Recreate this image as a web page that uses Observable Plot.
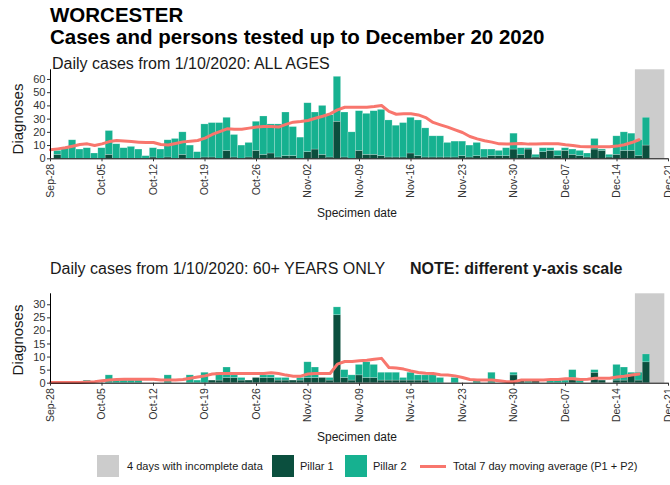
<!DOCTYPE html>
<html><head><meta charset="utf-8">
<script src="https://cdn.jsdelivr.net/npm/d3@7"></script>
<script src="https://cdn.jsdelivr.net/npm/@observablehq/plot@0.6"></script>
<style>
body{margin:0;background:#fff;font-family:"Liberation Sans",Arial,sans-serif;}
#page{position:relative;width:670px;height:485px;overflow:hidden;background:#fff;}
.t{position:absolute;white-space:nowrap;color:#000;line-height:1;}
.chart{position:absolute;left:0;}
.sw{position:absolute;width:22px;height:22px;}
</style></head><body><div id="page">
<div class="t" style="left:50px;top:4px;font-size:20.5px;line-height:21px;font-weight:bold;">WORCESTER</div>
<div class="t" style="left:50px;top:26px;font-size:20.5px;line-height:21px;font-weight:bold;">Cases and persons tested up to December 20 2020</div>
<div class="t" style="left:52px;top:56px;font-size:16px;color:#1a1a1a;">Daily cases from 1/10/2020: ALL AGES</div>
<div class="t" style="left:50px;top:261px;font-size:16px;color:#1a1a1a;">Daily cases from 1/10/2020: 60+ YEARS ONLY</div>
<div class="t" style="left:410px;top:261px;font-size:16px;font-weight:bold;color:#1a1a1a;">NOTE: different y-axis scale</div>
<div class="t" style="left:17px;top:119px;font-size:15px;color:#1a1a1a;transform:translate(-50%,-50%) rotate(-90deg);">Diagnoses</div>
<div class="t" style="left:17px;top:340px;font-size:15px;color:#1a1a1a;transform:translate(-50%,-50%) rotate(-90deg);">Diagnoses</div>
<div class="t" style="left:357px;top:213px;font-size:12px;color:#1a1a1a;transform:translate(-50%,-50%);">Specimen date</div>
<div class="t" style="left:357px;top:437px;font-size:12px;color:#1a1a1a;transform:translate(-50%,-50%);">Specimen date</div>
<div id="c1" class="chart" style="top:60px;"></div>
<div id="c2" class="chart" style="top:285px;"></div>
<div id="legend"></div>
</div>
<script>
// ---- data ----
const barStart = "2020-09-29", barEnd = "2020-12-19";      // bars: Sep-29 .. Dec-18
const lineStart = "2020-09-28", lineEnd = "2020-12-18";    // moving average: Sep-28 .. Dec-17
const incompleteFrom = "2020-12-17", incompleteTo = "2020-12-20";
const xTicks = ["2020-09-28","2020-10-05","2020-10-12","2020-10-19","2020-10-26","2020-11-02","2020-11-09","2020-11-16","2020-11-23","2020-11-30","2020-12-07","2020-12-14","2020-12-21"];
const xDomain = ["2020-09-28","2020-12-21"];

// ALL AGES
const allPillar1 = [3,0,0,0,0,0,0,3,0,0, 0,0,0,1,0,1,0,3,0,0, 1,1,0,6,1,0,1,6,3,4, 1,2,2,0,5,7,3,1,28,1, 0,6,3,3,2,1,1,1,4,2, 1,1,1,1,1,2,1,2,1,2, 2,2,7,3,7,1,5,6,2,6, 3,2,1,7,6,1,3,6,6,2,10];
const allPillar2 = [3,8,14,7,8,4,8,18,11,8, 9,7,2,7,7,13,15,17,10,5, 25,26,27,25,17,10,11,22,29,22, 25,33,22,16,37,28,37,32,34,34, 20,30,31,33,35,28,24,26,27,27, 22,16,16,11,12,11,9,10,6,5, 4,6,12,5,1,2,3,2,4,2, 4,4,3,8,1,2,14,14,13,12,21];
const allAvg = [6.8,7.5,8.3,9.5,10.8,11.3,10,11.3,13,13.8, 13.5,13,12.6,12.3,12.3,10.8,10.5,11.6,12.8,13.3, 13.8,15.6,18.4,20.6,22.7,22.4,22.4,23.2,24,24.4, 24.4,24,26,27.7,28.2,29,30.7,32.2,34,37, 39,39,39,39,39.5,40.3,35.8,33.7,34,34, 33.2,31.2,27.5,25.7,24,21.9,19.9,16.9,15.1,13.6, 12.6,11.3,11.1,11.3,11.6,11.1,11.1,11.3,11.3,11.3, 10.6,10.1,9.3,9.1,9.1,9.1,9.1,9.6,10.6,12.3,14.4];
const allYTicks = [0,10,20,30,40,50,60];

// 60+ YEARS
const oldPillar1 = [0,0,0,0,0,0,0,0,0,0, 0,0,0,0,0,0,0,0,0,0, 0,1,1,2,2,1,1,2,2,2, 1,1,1,1,2,2,2,1,26,2, 1,3,2,2,1,1,1,1,1,1, 1,0,0,0,0,0,0,0,0,0, 0,0,3,1,0,1,0,0,0,0, 2,0,0,4,1,0,1,1,3,1,8];
const oldPillar2 = [0,0,0,0,1,0,0,3,1,1, 1,1,0,0,0,3,0,0,3,1, 4,0,3,4,1,1,0,0,1,1, 1,1,0,1,6,4,0,1,3,3, 2,4,6,5,3,3,3,1,3,2, 2,3,2,0,2,0,0,1,0,4, 0,0,1,0,1,0,0,1,1,1, 3,1,0,1,0,0,6,5,1,3,3];
const oldAvg = [0.3,0.3,0.3,0.3,0.3,0.5,0.6,0.9,1.2,1.4, 1.5,1.5,1.5,1.5,1.5,1.2,1.2,1.2,1.4,1.9, 2.4,2.8,3.5,3.7,3.7,3.7,3.7,3.7,3.7,3.7, 4,3.7,3.1,2.7,2.7,3.5,3.7,3.7,3.7,7.3, 8.3,8.3,8.6,8.8,9.2,9.5,6,5.8,5.4,4.7, 4.1,3.8,3.7,3.2,3.1,2.8,2.2,1.4,1.2,1.2, 1.2,0.9,0.6,0.6,1.2,1.2,1.2,1.2,1.4,1.4, 1.7,1.7,1.4,1.5,1.9,1.9,1.9,2.4,2.7,3.1,3.5];
const oldYTicks = [0,5,10,15,20,25,30];

const series = ["Pillar 1","Pillar 2"];
const colors = {incomplete:"#cccccc", p1:"#0b4f3e", p2:"#16b190", avg:"#f8766d"};

// ---- build ----
const P = d => new Date(d + "T00:00:00Z");
const barDates = d3.utcDay.range(P(barStart), P(barEnd));
const lineDates = d3.utcDay.range(P(lineStart), P(lineEnd));

function makeChart(p1, p2, avg, yTicks, yMax, mTop, mBottom) {
  const bars = [];
  barDates.forEach((d, i) => {
    bars.push({date: d, series: series[0], value: p1[i]});
    bars.push({date: d, series: series[1], value: p2[i]});
  });
  const line = lineDates.map((d, i) => ({date: d, value: avg[i]}));
  const box = [{from: d3.utcHour.offset(P(incompleteFrom), -12), to: d3.utcHour.offset(P(incompleteTo), 12)}];
  return Plot.plot({
    width: 670, height: 160,
    marginLeft: 50, marginRight: 2, marginTop: mTop, marginBottom: mBottom,
    style: {fontFamily: "Liberation Sans, Arial, sans-serif", color: "#333", background: "transparent", overflow: "visible"},
    x: {type: "utc", domain: xDomain.map(P)},
    y: {domain: [0, yMax]},
    color: {domain: series, range: [colors.p1, colors.p2]},
    marks: [
      Plot.rect(box, {x1: "from", x2: "to", y1: 0, y2: yMax, fill: colors.incomplete}),
      Plot.rectY(bars, {
        x1: d => d3.utcHour.offset(d.date, -12),
        x2: d => d3.utcHour.offset(d.date, 12),
        y: "value", fill: "series",
        stroke: "#ffffff", strokeOpacity: 0.35, strokeWidth: 0.6
      }),
      Plot.line(line, {x: "date", y: "value", stroke: colors.avg, strokeWidth: 3, curve: "linear"}),
      Plot.ruleY([0], {stroke: "#000", strokeWidth: 1}),
      Plot.ruleX([P(xDomain[0])], {stroke: "#000", strokeWidth: 1}),
      Plot.axisY({ticks: yTicks, tickSize: 3, label: null, fontSize: 11, tickPadding: 2}),
      Plot.axisX({ticks: xTicks.map(P), tickFormat: d3.utcFormat("%b-%d"), tickRotate: -90, tickSize: 3, tickPadding: 2, label: null, fontSize: 10.5})
    ]
  });
}

document.getElementById("c1").append(makeChart(allPillar1, allPillar2, allAvg, allYTicks, 67.3, 9.3, 61.7));
document.getElementById("c2").append(makeChart(oldPillar1, oldPillar2, oldAvg, oldYTicks, 34.2, 8.3, 62.3));

// ---- legend ----
const legendItems = [
  {label: "4 days with incomplete data", kind: "box", color: colors.incomplete, x: 97, tx: 127},
  {label: "Pillar 1", kind: "box", color: colors.p1, x: 272, tx: 300},
  {label: "Pillar 2", kind: "box", color: colors.p2, x: 345, tx: 373},
  {label: "Total 7 day moving average (P1 + P2)", kind: "line", color: colors.avg, x: 420, tx: 453}
];
const lg = document.getElementById("legend");
legendItems.forEach(it => {
  const s = document.createElement("div");
  if (it.kind === "box") {
    s.className = "sw";
    s.style.cssText = `left:${it.x}px;top:455px;background:${it.color};`;
  } else {
    s.style.cssText = `position:absolute;left:${it.x}px;top:465px;width:26px;height:3px;background:${it.color};`;
  }
  lg.appendChild(s);
  const t = document.createElement("div");
  t.className = "t";
  t.style.cssText = `left:${it.tx}px;top:461px;font-size:11px;color:#1a1a1a;`;
  t.textContent = it.label;
  lg.appendChild(t);
});
</script></body></html>
